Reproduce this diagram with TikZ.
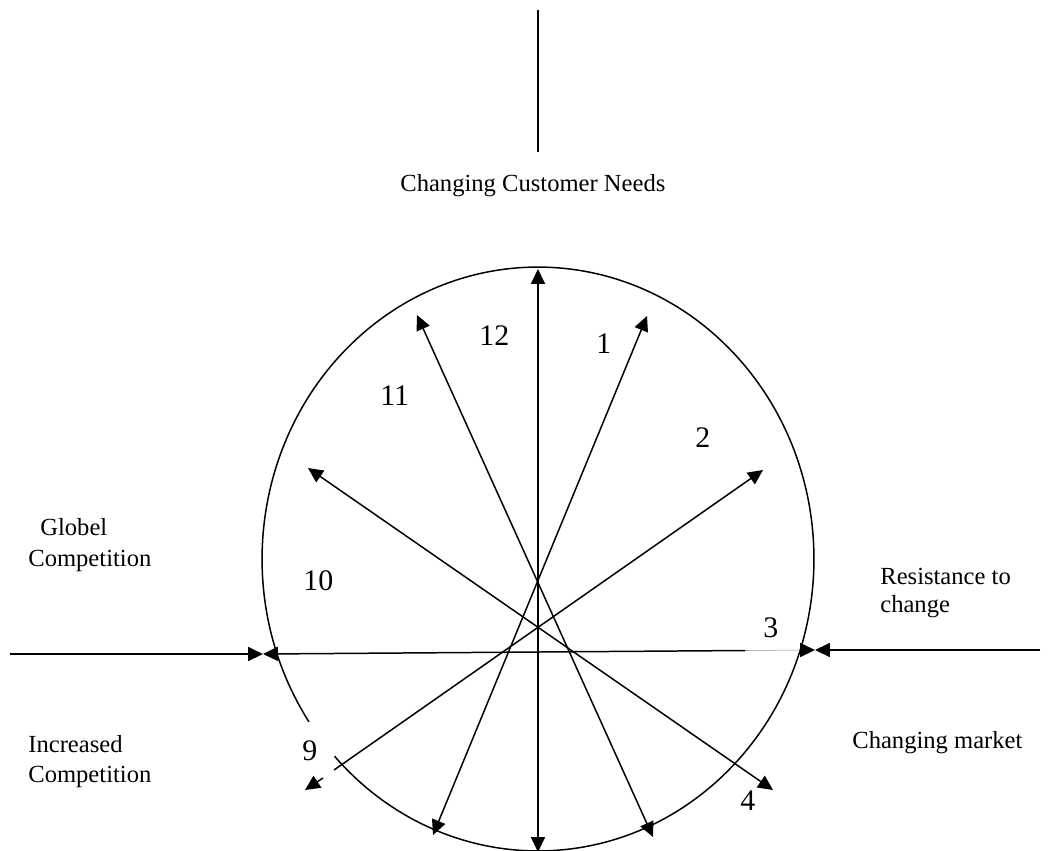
\documentclass[tikz,border=0pt]{standalone}
\usepackage{fontspec}
\setmainfont{Liberation Serif}
\usetikzlibrary{arrows.meta}
\begin{document}
\begin{tikzpicture}[x=0.02cm,y=-0.02cm,
  ln/.style={line width=0.85pt},
  dbl/.style={ln,{Triangle[length=8.5pt,width=8pt]}-{Triangle[length=8.5pt,width=8pt]}},
  one/.style={ln,-{Triangle[length=8.5pt,width=8pt]}},
  lab/.style={font=\fontsize{14}{16}\selectfont, inner sep=0pt, anchor=base west},
  num/.style={font=\fontsize{17}{19}\selectfont, inner sep=0pt, anchor=base west}]
\useasboundingbox (0,0) rectangle (1049,850);
% coordinates
\coordinate (Ttop) at (538,10);
\coordinate (Tbot) at (538,152);
\coordinate (C) at (538,559);
\coordinate (Vt) at (538,269);
\coordinate (Vb) at (538,852);
\coordinate (A1) at (417,315);
\coordinate (A2) at (653,837);
\coordinate (B1) at (647,316);
\coordinate (B2) at (433,835);
\coordinate (C1) at (308,468);
\coordinate (C2) at (773,790);
\coordinate (D1) at (763,470);
\coordinate (Dg) at (334,770);
\coordinate (Dh) at (323,778);
\coordinate (D2) at (305,790);
\coordinate (E1) at (263,654);
\coordinate (Em) at (745,650.5);
\coordinate (En) at (800,650);
\coordinate (E2) at (815,650);
\coordinate (L0) at (10,654);
\coordinate (R0) at (1040,650);
% top line
\draw[ln] (Ttop) -- (Tbot);
% ellipse with gap near 9
\draw[ln] ([shift={(222.5:5.52cm and 5.84cm)}]C) arc[start angle=222.5, end angle=573.9, x radius=5.52cm, y radius=5.84cm];
% spokes
\draw[dbl] (Vt) -- (Vb);
\draw[dbl] (A1) -- (A2);
\draw[dbl] (B1) -- (B2);
\draw[dbl] (C1) -- (C2);
\draw[one] (Dg) -- (D1);
\draw[one] (Dh) -- (D2);
% horizontal
\draw[one] (Em) -- (E1);
\draw[line width=0.3pt, black!45] (Em) -- (En);
\draw[one] (En) -- (E2);
% outer arrows
\draw[one] (L0) -- (E1);
\draw[one] (R0) -- (E2);
% labels
\node[lab] (tneeds) at (400,191) {Changing Customer Needs};
\node[lab] (tglob1) at (40,535) {Globel};
\node[lab] (tglob2) at (28,566) {Competition};
\node[lab] (tres1) at (880,584) {Resistance to};
\node[lab] (tres2) at (880,612) {change};
\node[lab] (tinc1) at (28,752) {Increased};
\node[lab] (tinc2) at (28,782) {Competition};
\node[lab] (tmkt) at (852,748) {Changing market};
% numbers
\node[num] (n12) at (479,345) {12};
\node[num] (n1) at (596,353) {1};
\node[num] (n11) at (380,405) {11};
\node[num] (n2) at (695,447) {2};
\node[num] (n10) at (303,590) {10};
\node[num] (n3) at (763,637) {3};
\node[num] (n9) at (302,760) {9};
\node[num] (n4) at (740,810) {4};
\end{tikzpicture}
\end{document}
